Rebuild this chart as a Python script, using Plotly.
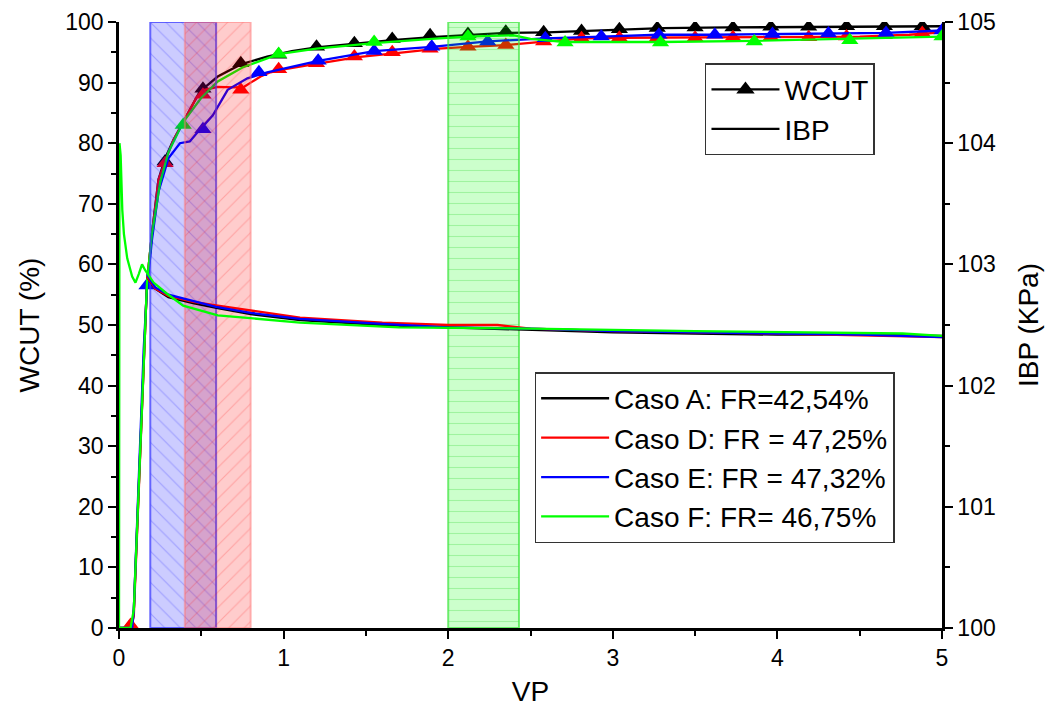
import plotly.graph_objects as go

# ---------------- data ----------------
VP_RANGE = [0, 5]
WCUT_RANGE = [0, 100]
IBP_RANGE = [100, 105]

case_names = ["Caso A: FR=42,54%", "Caso D: FR = 47,25%",
              "Caso E: FR = 47,32%", "Caso F: FR= 46,75%"]

# WCUT curves (%)
a_vp = [0, 0.08, 0.09, 0.10, 0.11, 0.13, 0.15, 0.17, 0.20, 0.24, 0.28, 0.33, 0.41, 0.49, 0.60,
        0.74, 0.90, 1.05, 1.20, 1.43, 1.66, 1.90, 2.12, 2.35, 2.60, 2.80, 3.05, 3.30, 3.70,
        4.20, 4.60, 5.00]
a_wcut = [0, 0, 3, 10, 18, 32, 46, 57, 65, 74, 77.5, 80.5, 84.5, 88.5, 91.0,
          93.0, 94.3, 95.2, 95.8, 96.4, 97.0, 97.5, 97.8, 98.2, 98.3, 98.5, 98.8, 99.0, 99.1,
          99.2, 99.3, 99.3]

d_vp = [0, 0.07, 0.09, 0.10, 0.11, 0.13, 0.15, 0.17, 0.20, 0.24, 0.28, 0.33, 0.41, 0.47, 0.52,
        0.60, 0.70, 0.76, 0.80, 0.86, 0.92, 1.00, 1.18, 1.45, 1.70, 1.94, 2.12, 2.35, 2.60,
        2.82, 3.05, 3.50, 4.00, 4.50, 4.80, 5.00]
d_wcut = [0, 0, 2, 9, 18, 32, 46, 57, 65, 74, 77, 80.5, 84.5, 87.5, 88.8,
          89.3, 89.2, 89.3, 90.0, 91.0, 91.7, 92.2, 93.0, 94.2, 94.9, 95.6, 95.9, 96.2, 96.8,
          97.3, 97.4, 97.4, 97.5, 97.6, 97.9, 98.3]

e_vp = [0, 0.08, 0.09, 0.10, 0.11, 0.13, 0.15, 0.17, 0.20, 0.24, 0.30, 0.37, 0.43, 0.49, 0.57,
        0.66, 0.78, 0.90, 1.10, 1.21, 1.55, 1.90, 2.24, 2.59, 2.93, 3.28, 3.62, 3.97, 4.31,
        4.66, 5.00]
e_wcut = [0, 0, 3, 10, 18, 32, 46, 56, 64, 72, 77.5, 80.0, 80.3, 82.2, 84.6,
          88.8, 90.7, 91.7, 92.9, 93.6, 95.2, 95.9, 96.8, 97.3, 97.6, 97.9, 97.9, 98.0, 98.1,
          98.2, 98.6]

f_vp = [0, 0.07, 0.09, 0.10, 0.11, 0.13, 0.15, 0.17, 0.20, 0.25, 0.30, 0.39, 0.50, 0.60, 0.75,
        0.97, 1.20, 1.55, 1.90, 2.12, 2.40, 2.50, 2.71, 3.29, 3.86, 4.44, 5.00]
f_wcut = [0, 0, 3, 10, 18, 32, 46, 57, 65, 73.5, 78.5, 83.5, 87.5, 90.2, 92.5,
          94.7, 95.6, 96.5, 97.2, 97.6, 97.8, 97.2, 96.7, 96.7, 96.9, 97.2, 97.6]

# WCUT symbols (triangles)
a_mk_vp = [0.06, 0.28, 0.51, 0.74, 0.97, 1.20, 1.43, 1.66, 1.89, 2.12, 2.35, 2.58, 2.81, 3.04,
           3.27, 3.50, 3.73, 3.96, 4.19, 4.42, 4.65, 4.88]
a_mk = [0, 77, 89, 93.2, 94.6, 95.9, 96.5, 97.2, 97.8, 98.0, 98.4, 98.3, 98.5, 98.8,
        99.0, 99.1, 99.1, 99.2, 99.2, 99.3, 99.3, 99.3]
d_mk_vp = [0.07, 0.28, 0.51, 0.74, 0.97, 1.20, 1.43, 1.66, 1.89, 2.12, 2.35, 2.58, 2.81, 3.04,
           3.27, 3.50, 3.73, 3.96, 4.19, 4.42, 4.65, 4.88]
d_mk = [0.5, 76.7, 88.0, 88.8, 92.2, 93.2, 94.3, 95.0, 95.6, 95.9, 96.2, 96.8, 97.3, 97.4,
        97.4, 97.4, 97.5, 97.5, 97.5, 97.6, 97.8, 98.2]
e_mk_vp = [0.17, 0.51, 0.85, 1.21, 1.55, 1.90, 2.24, 2.59, 2.93, 3.28, 3.62, 3.97, 4.31, 4.66, 5.00]
e_mk = [56.5, 82.3, 91.7, 93.6, 95.2, 95.9, 96.8, 97.3, 97.6, 97.9, 97.9, 98.0, 98.1, 98.2, 98.6]
f_mk_vp = [0.39, 0.97, 1.55, 2.12, 2.71, 3.29, 3.86, 4.44, 5.00]
f_mk = [83.0, 94.7, 96.7, 97.6, 96.6, 96.6, 96.8, 97.0, 97.6]

# IBP curves (KPa)
a_ibp_vp = [0.17, 0.22, 0.30, 0.45, 0.60, 0.80, 1.10, 1.60, 2.00, 2.50, 3.00, 3.50, 4.00, 4.50, 5.00]
a_ibp = [102.90, 102.80, 102.73, 102.68, 102.64, 102.59, 102.54, 102.50, 102.48, 102.46,
         102.44, 102.43, 102.42, 102.42, 102.41]
d_ibp_vp = [0.17, 0.22, 0.30, 0.45, 0.60, 0.80, 1.10, 1.60, 2.00, 2.30, 2.50, 3.00, 4.00, 5.00]
d_ibp = [102.90, 102.80, 102.74, 102.69, 102.66, 102.62, 102.56, 102.52, 102.50, 102.50,
         102.47, 102.45, 102.43, 102.40]
e_ibp_vp = [0.17, 0.22, 0.30, 0.45, 0.59, 0.80, 1.10, 1.60, 2.00, 2.50, 3.00, 3.50, 4.00, 4.50, 5.00]
e_ibp = [102.92, 102.81, 102.75, 102.70, 102.65, 102.60, 102.55, 102.51, 102.48, 102.47,
         102.45, 102.44, 102.43, 102.42, 102.40]
f_ibp_vp = [0, 0.003, 0.01, 0.02, 0.03, 0.05, 0.08, 0.10, 0.12, 0.14, 0.16, 0.21, 0.29, 0.39,
            0.60, 1.10, 1.70, 2.50, 3.50, 4.76, 5.00]
f_ibp = [100.0, 104.0, 103.9, 103.45, 103.25, 103.05, 102.90, 102.85, 102.92, 103.0, 102.95,
         102.85, 102.76, 102.66, 102.58, 102.52, 102.48, 102.47, 102.45, 102.43, 102.41]

# highlighted VP intervals
band_blue = [0.19, 0.59]
band_red = [0.40, 0.80]
band_green = [2.00, 2.43]

# ---------------- styles ----------------
COLORS = ["#000000", "#ff0000", "#0000ff", "#00ff00"]
FONT = "Arial, Liberation Sans, sans-serif"
LW = 2.3
MK = 15

fig = go.Figure()

wcut_sets = [(a_vp, a_wcut, a_mk_vp, a_mk), (d_vp, d_wcut, d_mk_vp, d_mk),
             (e_vp, e_wcut, e_mk_vp, e_mk), (f_vp, f_wcut, f_mk_vp, f_mk)]
for (vx, vy, mx, my), col in zip(wcut_sets, COLORS):
    fig.add_trace(go.Scatter(x=vx, y=vy, mode="lines", line=dict(color=col, width=LW),
                             showlegend=False, hoverinfo="skip"))
    fig.add_trace(go.Scatter(x=mx, y=my, mode="markers",
                             marker=dict(symbol="triangle-up", size=MK, color=col,
                                         line=dict(width=0)),
                             showlegend=False, hoverinfo="skip"))

# shaded bands (drawn over WCUT curves)
band_styles = [
    (band_blue, "rgba(0,0,255,0.20)", "rgba(0,0,255,0.22)", "\\", "rgba(60,60,255,0.75)"),
    (band_red, "rgba(255,0,0,0.20)", "rgba(255,0,0,0.20)", "/", "rgba(255,120,120,0.5)"),
    (band_green, "rgba(0,255,0,0.20)", "rgba(0,200,0,0.22)", "-", "rgba(60,230,60,0.7)"),
]
for b, bg, fg, shp, edge in band_styles:
    fig.add_trace(go.Scatter(
        x=[b[0], b[1], b[1], b[0], b[0]],
        y=[WCUT_RANGE[0], WCUT_RANGE[0], WCUT_RANGE[1], WCUT_RANGE[1], WCUT_RANGE[0]],
        mode="lines", fill="toself", line=dict(color=edge, width=2),
        fillcolor=bg,
        fillpattern=dict(shape=shp, bgcolor=bg, fgcolor=fg, size=11, solidity=0.1,
                         fillmode="replace"),
        showlegend=False, hoverinfo="skip"))

# IBP curves on right axis (also legend 2)
ibp_sets = [(a_ibp_vp, a_ibp), (d_ibp_vp, d_ibp), (e_ibp_vp, e_ibp), (f_ibp_vp, f_ibp)]
for (vx, vy), col, nm in zip(ibp_sets, COLORS, case_names):
    fig.add_trace(go.Scatter(x=vx, y=vy, mode="lines", line=dict(color=col, width=LW),
                             name=nm, yaxis="y2", legend="legend2", hoverinfo="skip"))

# legend 1 proxies
fig.add_trace(go.Scatter(x=[None], y=[None], mode="lines+markers", name="WCUT",
                         line=dict(color="black", width=LW),
                         marker=dict(symbol="triangle-up", size=MK + 2, color="black"),
                         legend="legend"))
fig.add_trace(go.Scatter(x=[None], y=[None], mode="lines", name="IBP",
                         line=dict(color="black", width=LW), legend="legend"))

axis_common = dict(showline=True, linecolor="black", linewidth=2.5, showgrid=False,
                   zeroline=False, ticks="outside", ticklen=8, tickwidth=2, tickcolor="black",
                   automargin=False,
                   tickfont=dict(family=FONT, size=23, color="black"))

fig.update_layout(
    width=1046, height=711,
    paper_bgcolor="white", plot_bgcolor="white",
    margin=dict(l=119, r=104, t=22, b=83),
    font=dict(family=FONT, color="black"),
    xaxis=dict(range=VP_RANGE, dtick=1, tick0=0,
               minor=dict(dtick=0.5, ticks="outside", ticklen=5, tickwidth=2, tickcolor="black"),
               title=dict(text="VP", font=dict(family=FONT, size=28), standoff=12),
               **axis_common),
    xaxis2=dict(range=VP_RANGE, dtick=1, tick0=0, overlaying="x", side="top", anchor="y",
                showline=True, linecolor="black", linewidth=2.5, showgrid=False, zeroline=False,
                automargin=False,
                ticks="inside", ticklen=8, tickwidth=2, tickcolor="black", showticklabels=False,
                minor=dict(dtick=0.5, ticks="inside", ticklen=5, tickwidth=2, tickcolor="black")),
    yaxis=dict(range=WCUT_RANGE, dtick=10, tick0=0,
               minor=dict(dtick=5, ticks="outside", ticklen=5, tickwidth=2, tickcolor="black"),
               title=dict(text="WCUT (%)", font=dict(family=FONT, size=28), standoff=18),
               **axis_common),
    yaxis2=dict(range=IBP_RANGE, dtick=1, tick0=100, overlaying="y", side="right", anchor="x",
                minor=dict(dtick=0.5, ticks="outside", ticklen=5, tickwidth=2, tickcolor="black"),
                title=dict(text="IBP (KPa)", font=dict(family=FONT, size=28), standoff=24),
                **axis_common),
    legend=dict(x=0.712, y=0.932, xanchor="left", yanchor="top",
                bgcolor="white", bordercolor="#333333", borderwidth=1.5,
                font=dict(family=FONT, size=28, color="black"), itemwidth=68,
                tracegroupgap=0),
    legend2=dict(x=0.505, y=0.4224, xanchor="left", yanchor="top",
                 bgcolor="white", bordercolor="#333333", borderwidth=1.5,
                 font=dict(family=FONT, size=28, color="black"), itemwidth=68,
                 tracegroupgap=0),
)

fig.write_html("out.html", config={"displayModeBar": False},
               post_script="document.body.style.margin='0';")
